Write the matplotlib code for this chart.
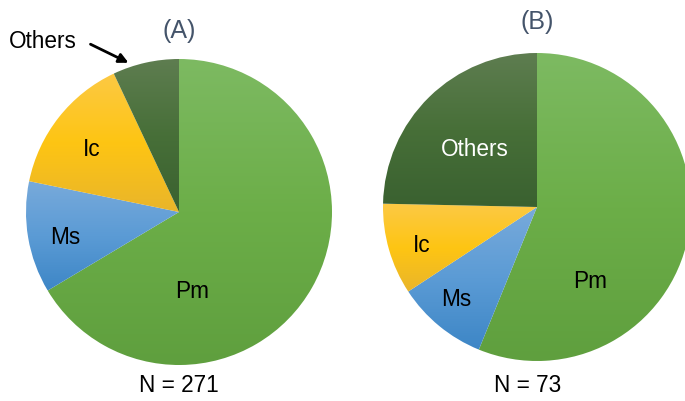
import numpy as np
import matplotlib
matplotlib.use("Agg")
import matplotlib.pyplot as plt
from matplotlib.colors import LinearSegmentedColormap

plt.rcParams['font.family'] = ['Liberation Sans', 'DejaVu Sans']

# data
labels = ['Pm', 'Ms', 'Ic', 'Others']
counts_a = [180, 32, 40, 19]   # N = 271
counts_b = [41, 7, 7, 18]      # N = 73

# gradient stops per category (top, middle, bottom)
grad_colors = {
    'Pm': ['#7dba62', '#6cae48', '#5f9f3e'],
    'Ms': ['#78aadb', '#5b9bd5', '#3d86c6'],
    'Ic': ['#fcc944', '#fec513', '#e9b52b'],
    'Others': ['#5e7d50', '#476f38', '#3a6130'],
}

W, H = 685, 401
fig = plt.figure(figsize=(W / 100, H / 100), dpi=100)
ax = fig.add_axes([0, 0, 1, 1])


def draw_pie(counts, center, radius):
    wedges, _ = ax.pie(counts, center=center, radius=radius, startangle=90,
                       counterclock=False, colors=['none'] * len(counts),
                       wedgeprops=dict(linewidth=0))
    for w, lab in zip(wedges, labels):
        cmap = LinearSegmentedColormap.from_list(lab, grad_colors[lab])
        # bounding box of this wedge
        verts = w.get_path().vertices
        x0, y0 = verts.min(axis=0)
        x1, y1 = verts.max(axis=0)
        grad = np.linspace(0, 1, 256).reshape(-1, 1)
        im = ax.imshow(grad, cmap=cmap, extent=(x0, x1, y0, y1),
                       origin='upper', aspect='auto', zorder=1,
                       interpolation='bilinear')
        im.set_clip_path(w)
    return wedges


# pie A
cx_a, cy_a, r_a = 179, H - 212, 153
draw_pie(counts_a, (cx_a, cy_a), r_a)

# pie B
cx_b, cy_b, r_b = 537, H - 207, 154
draw_pie(counts_b, (cx_b, cy_b), r_b)

fs = 16.3
title_col = '#44546a'
ax.text(179, H - 31, '(A)', fontsize=18, color=title_col, ha='center', va='center', zorder=3)
ax.text(537, H - 22, '(B)', fontsize=18, color=title_col, ha='center', va='center', zorder=3)

# labels A
ax.text(92, H - 150, 'Ic', fontsize=fs, ha='center', va='center', zorder=3)
ax.text(65, H - 237, 'Ms', fontsize=fs, ha='center', va='center', zorder=3)
ax.text(192, H - 292, 'Pm', fontsize=fs, ha='center', va='center', zorder=3)
ax.text(43, H - 41, 'Others', fontsize=fs, ha='center', va='center', zorder=3)
ax.annotate('', xy=(131, H - 64), xytext=(88, H - 43),
            arrowprops=dict(arrowstyle='-|>', color='black', lw=2,
                            mutation_scale=14), zorder=3)
ax.text(179, H - 386, 'N = 271', fontsize=fs, ha='center', va='center', zorder=3)

# labels B
ax.text(475, H - 150, 'Others', fontsize=fs, color='white', ha='center', va='center', zorder=3)
ax.text(422, H - 245, 'Ic', fontsize=fs, ha='center', va='center', zorder=3)
ax.text(456, H - 300, 'Ms', fontsize=fs, ha='center', va='center', zorder=3)
ax.text(590, H - 282, 'Pm', fontsize=fs, ha='center', va='center', zorder=3)
ax.text(528, H - 385, 'N = 73', fontsize=fs, ha='center', va='center', zorder=3)

ax.set_xlim(0, W)
ax.set_ylim(0, H)
ax.set_aspect('auto')
ax.axis('off')

fig.savefig('out.png', dpi=100)
